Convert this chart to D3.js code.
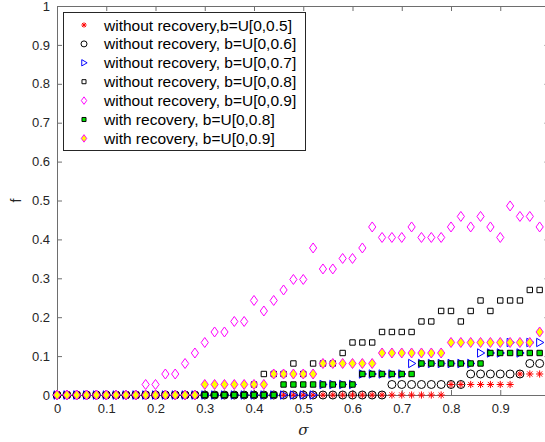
<!DOCTYPE html>
<html>
<head>
<meta charset="utf-8">
<script src="https://cdn.jsdelivr.net/npm/d3@7"></script>
<style>
  body { margin: 0; background: #fff; }
  svg { font-family: "Liberation Sans", Arial, sans-serif; }
  .axis path, .axis line { stroke: #6e6e6e; }
  .axis text { fill: #262626; font-size: 13px; }
</style>
</head>
<body>
<svg id="chart" width="545" height="442"></svg>
<script>
// sigma values (x)
var sigma = [0,0.02,0.04,0.06,0.08,0.1,0.12,0.14,0.16,0.18,
             0.2,0.22,0.24,0.26,0.28,0.3,0.32,0.34,0.36,0.38,
             0.4,0.42,0.44,0.46,0.48,0.5,0.52,0.54,0.56,0.58,
             0.6,0.62,0.64,0.66,0.68,0.7,0.72,0.74,0.76,0.78,
             0.8,0.82,0.84,0.86,0.88,0.9,0.92,0.94,0.96,0.98];

var noRec05 = [0,0,0,0,0,0,0,0,0,0,
               0,0,0,0,0,0,0,0,0,0,
               0,0,0,0,0,0,0,0,0,0,
               0,0,0,0,0,0,0,0,0,0,
               0.027,0.027,0.027,0.027,0.027,0.027,0.027,0.054,0.054,0.054];

var noRec06 = [0,0,0,0,0,0,0,0,0,0,
               0,0,0,0,0,0,0,0,0,0,
               0,0,0,0,0,0,0,0,0,0,
               0,0,0,0,0.027,0.027,0.027,0.027,0.027,0.027,
               0.027,0.027,0.054,0.054,0.054,0.054,0.054,0.054,0.081,0.081];

var noRec07 = [0,0,0,0,0,0,0,0,0,0,
               0,0,0,0,0,0,0,0,0,0,
               0,0,0,0,0,0,0,0.027,0.027,0.027,
               0.027,0.054,0.054,0.054,0.054,0.054,0.081,0.081,0.081,0.081,
               0.081,0.081,0.081,0.108,0.108,0.108,0.135,0.108,0.135,0.135];

var noRec08 = [0,0,0,0,0,0,0,0,0,0,
               0,0,0,0,0,0,0,0,0,0,
               0.027,0.054,0.054,0.054,0.081,0.054,0.081,0.081,0.081,0.108,
               0.135,0.135,0.135,0.162,0.162,0.162,0.162,0.189,0.189,0.216,
               0.216,0.189,0.216,0.243,0.216,0.243,0.243,0.243,0.27,0.27];

var noRec09 = [0,0,0,0,0,0,0,0,0,0.027,
               0.027,0.054,0.054,0.081,0.108,0.135,0.162,0.162,0.189,0.189,
               0.243,0.216,0.243,0.27,0.297,0.297,0.378,0.324,0.324,0.351,
               0.351,0.378,0.432,0.405,0.405,0.405,0.432,0.405,0.405,0.405,
               0.432,0.459,0.432,0.459,0.432,0.405,0.486,0.459,0.459,0.432];

var withRec08 = [0,0,0,0,0,0,0,0,0,0,
                 0,0,0,0,0,0,0,0,0,0,
                 0,0,0,0.027,0.027,0.027,0.027,0.027,0.027,0.027,
                 0.027,0.054,0.054,0.054,0.054,0.054,0.054,0.081,0.081,0.081,
                 0.081,0.081,0.081,0.081,0.108,0.108,0.108,0.108,0.108,0.108];

var withRec09 = [0,0,0,0,0,0,0,0,0,0,
                 0,0,0,0,0,0.027,0.027,0.027,0.027,0.027,
                 0.027,0.027,0.054,0.054,0.054,0.054,0.054,0.081,0.081,0.081,
                 0.081,0.081,0.081,0.108,0.108,0.108,0.108,0.108,0.108,0.108,
                 0.135,0.135,0.135,0.135,0.135,0.135,0.135,0.135,0.135,0.162];

var legendLabels = ["without recovery,b=U[0,0.5]",
                    "without recovery, b=U[0,0.6]",
                    "without recovery, b=U[0,0.7]",
                    "without recovery, b=U[0,0.8]",
                    "without recovery, b=U[0,0.9]",
                    "with recovery, b=U[0,0.8]",
                    "with recovery, b=U[0,0.9]"];

var xTicks = [0,0.1,0.2,0.3,0.4,0.5,0.6,0.7,0.8,0.9];
var yTicks = [0,0.1,0.2,0.3,0.4,0.5,0.6,0.7,0.8,0.9,1];

var plotLeft = 57, plotRight = 549.5, plotTop = 6, plotBottom = 395;

var svg = d3.select("#chart");

var x = d3.scaleLinear().domain([0, 1]).range([plotLeft, plotRight]);
var y = d3.scaleLinear().domain([0, 1]).range([plotBottom, plotTop]);

// marker shapes
function star() {
    var r = 3.6, d = r * 0.72;
    return "M" + (-r) + ",0L" + r + ",0M0," + (-r) + "L0," + r +
           "M" + (-d) + "," + (-d) + "L" + d + "," + d +
           "M" + (-d) + "," + d + "L" + d + "," + (-d);
}
function circle() { return "M4,0A4,4 0 1,1 -4,0A4,4 0 1,1 4,0Z"; }
function triRight() { return "M-3,-4.2L4.2,0L-3,4.2Z"; }
function square() { return "M-2.7,-2.7H2.7V2.7H-2.7Z"; }
function diamond() { return "M0,-5L3.6,0L0,5L-3.6,0Z"; }

var series = [
    { values: noRec05,  shape: star,     stroke: "#ff0000", fill: "none" },
    { values: noRec06,  shape: circle,   stroke: "#000",    fill: "none" },
    { values: noRec07,  shape: triRight, stroke: "#0000ff", fill: "none" },
    { values: noRec08,  shape: square,   stroke: "#000",    fill: "none" },
    { values: noRec09,  shape: diamond,  stroke: "#ff00ff", fill: "none" },
    { values: withRec08, shape: square,  stroke: "#000",    fill: "#00e000" },
    { values: withRec09, shape: diamond, stroke: "#ff00ff", fill: "#ffff00" }
];

// axes
svg.append("g")
    .attr("class", "axis")
    .attr("transform", "translate(0," + plotBottom + ")")
    .call(d3.axisBottom(x).tickValues(xTicks).tickSize(-5).tickSizeOuter(0)
        .tickPadding(9).tickFormat(d3.format("")));

svg.append("g")
    .attr("class", "axis")
    .attr("transform", "translate(0," + plotTop + ")")
    .call(d3.axisTop(x).tickValues(xTicks).tickSize(-5).tickSizeOuter(0).tickFormat(""));

svg.append("g")
    .attr("class", "axis")
    .attr("transform", "translate(" + plotLeft + ",0)")
    .call(d3.axisLeft(y).tickValues(yTicks).tickSize(-5).tickSizeOuter(0)
        .tickPadding(7).tickFormat(d3.format("")));

svg.append("g")
    .attr("class", "axis")
    .attr("transform", "translate(" + plotRight + ",0)")
    .call(d3.axisRight(y).tickValues(yTicks).tickSize(-5).tickSizeOuter(0).tickFormat(""));

// axis labels
svg.append("text")
    .attr("x", (plotLeft + plotRight) / 2)
    .attr("y", 435)
    .attr("text-anchor", "middle")
    .style("font-family", "'DejaVu Serif', serif")
    .style("font-style", "italic")
    .style("font-size", "15px")
    .attr("fill", "#262626")
    .text("σ");

svg.append("text")
    .attr("transform", "translate(21," + y(0.5) + ") rotate(-90)")
    .attr("text-anchor", "middle")
    .style("font-size", "14px")
    .attr("fill", "#262626")
    .text("f");

// data markers
series.forEach(function(s) {
    svg.append("g").selectAll("path")
        .data(s.values)
        .enter()
        .append("path")
        .attr("d", s.shape)
        .attr("transform", function(d, i) { return "translate(" + x(sigma[i]) + "," + y(d) + ")"; })
        .attr("fill", s.fill)
        .attr("stroke", s.stroke)
        .attr("stroke-width", 1);
});

// legend
var legend = svg.append("g");
legend.append("rect")
    .attr("x", 63.5).attr("y", 12.5)
    .attr("width", 242).attr("height", 138)
    .attr("fill", "#fff").attr("stroke", "#262626");

var rows = legend.selectAll(".row")
    .data(series)
    .enter()
    .append("g")
    .attr("transform", function(d, i) { return "translate(0," + (25 + i * 18.9) + ")"; });

// legend markers are drawn a bit smaller than the data markers
rows.append("path")
    .attr("d", function(d) { return d.shape(); })
    .attr("transform", "translate(84,0) scale(0.75)")
    .attr("fill", function(d) { return d.fill; })
    .attr("stroke", function(d) { return d.stroke; })
    .attr("stroke-width", 1.3);

rows.append("text")
    .attr("x", 104)
    .attr("y", 5.5)
    .style("font-size", "15.5px")
    .attr("fill", "#000")
    .text(function(d, i) { return legendLabels[i]; });
</script>
</body>
</html>
